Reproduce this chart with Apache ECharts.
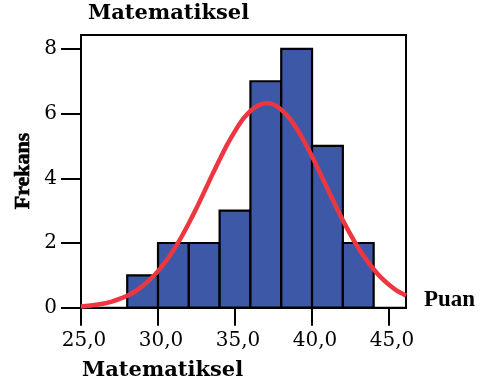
<!DOCTYPE html>
<html>
<head>
<meta charset="utf-8">
<script src="https://cdn.jsdelivr.net/npm/echarts@6/dist/echarts.min.js"></script>
<style>html,body{margin:0;padding:0;background:#fff;}#c{width:480px;height:391px;}</style>
</head>
<body>
<div id="c"></div>
<script>
var binStart = [28, 30, 32, 34, 36, 38, 40, 42];
var binEnd   = [30, 32, 34, 36, 38, 40, 42, 44];
var counts   = [1, 2, 2, 3, 7, 8, 5, 2];
var curveX = [25, 25.5, 26, 26.5, 27, 27.5, 28, 28.5, 29, 29.5, 30, 30.5, 31, 31.5, 32, 32.5, 33, 33.5, 34, 34.5, 35, 35.5, 36, 36.5,
              37, 37.5, 38, 38.5, 39, 39.5, 40, 40.5, 41, 41.5, 42, 42.5, 43, 43.5, 44, 44.5, 45, 45.5, 46, 46.1];
var curveY = [0.04, 0.06, 0.09, 0.13, 0.19, 0.27, 0.37, 0.50, 0.67, 0.88, 1.13, 1.43, 1.78, 2.17, 2.61, 3.08, 3.58, 4.09, 4.58, 5.05, 5.46, 5.82, 6.08, 6.25,
              6.32, 6.28, 6.12, 5.88, 5.54, 5.13, 4.68, 4.18, 3.68, 3.18, 2.70, 2.26, 1.85, 1.50, 1.19, 0.92, 0.71, 0.53, 0.40, 0.37];
var xTicks = [25, 30, 35, 40, 45];
var yTicks = [0, 2, 4, 6, 8];
var titleText = 'Matematiksel';
var xName = 'Puan';
var yName = 'Frekans';

var bars = binStart.map(function (s, i) { return [s, binEnd[i], counts[i]]; });
var curve = curveX.map(function (x, i) { return [x, curveY[i]]; });

var chart = echarts.init(document.getElementById('c'), null, {renderer: 'canvas'});
chart.setOption({
  animation: false,
  backgroundColor: '#fff',
  grid: {left: 81, right: 74, top: 35, bottom: 83.3, show: true, borderColor: '#000', borderWidth: 2, backgroundColor: 'transparent'},
  xAxis: {
    type: 'value', min: 25, max: 46.1, interval: 5,
    axisLine: {show: true, onZero: false, lineStyle: {color: '#000', width: 2}},
    axisTick: {show: true, length: 18, customValues: xTicks, lineStyle: {color: '#000', width: 2}},
    axisLabel: {customValues: xTicks, margin: 33, verticalAlign: 'middle', lineHeight: 20, padding: [0, 0, 0, 6],
      fontFamily: 'DejaVu Serif', fontSize: 20, color: '#000',
      formatter: function (v) { return v.toFixed(1).replace('.', ','); }},
    splitLine: {show: false}
  },
  yAxis: {
    type: 'value', min: 0, max: 8.43, interval: 2,
    axisLine: {show: true, lineStyle: {color: '#000', width: 2}},
    axisTick: {show: true, length: 20, customValues: yTicks, lineStyle: {color: '#000', width: 2}},
    axisLabel: {customValues: yTicks, margin: 24, fontFamily: 'DejaVu Serif', fontSize: 20, color: '#000'},
    splitLine: {show: false}
  },
  graphic: [
    {type: 'text', left: 88, top: 3, style: {text: titleText, font: 'bold 21px "DejaVu Serif"', fill: '#000'}},
    {type: 'text', left: 82, top: 360, style: {text: titleText, font: 'bold 21px "DejaVu Serif"', fill: '#000'}},
    {type: 'text', left: 424, top: 289, style: {text: xName, font: 'bold 23px "Liberation Serif"', fill: '#000'}},
    {type: 'text', x: 23, y: 171, rotation: Math.PI / 2,
      style: {text: yName, font: 'bold 22px "Liberation Serif"', fill: '#000', align: 'center', verticalAlign: 'middle',
        stroke: '#000', lineWidth: 0.6}}
  ],
  series: [
    {
      type: 'custom',
      data: bars,
      renderItem: function (params, api) {
        var p0 = api.coord([api.value(0), api.value(2)]);
        var p1 = api.coord([api.value(1), 0]);
        return {type: 'rect', shape: {x: p0[0], y: p0[1], width: p1[0] - p0[0], height: p1[1] - p0[1]},
          style: {fill: '#3E58A8', stroke: '#000', lineWidth: 2.2}};
      },
      z: 2
    },
    {
      type: 'line', data: curve, smooth: 0.3, showSymbol: false, z: 3,
      lineStyle: {color: '#EE3640', width: 4.5}
    }
  ]
});
</script>
</body>
</html>
